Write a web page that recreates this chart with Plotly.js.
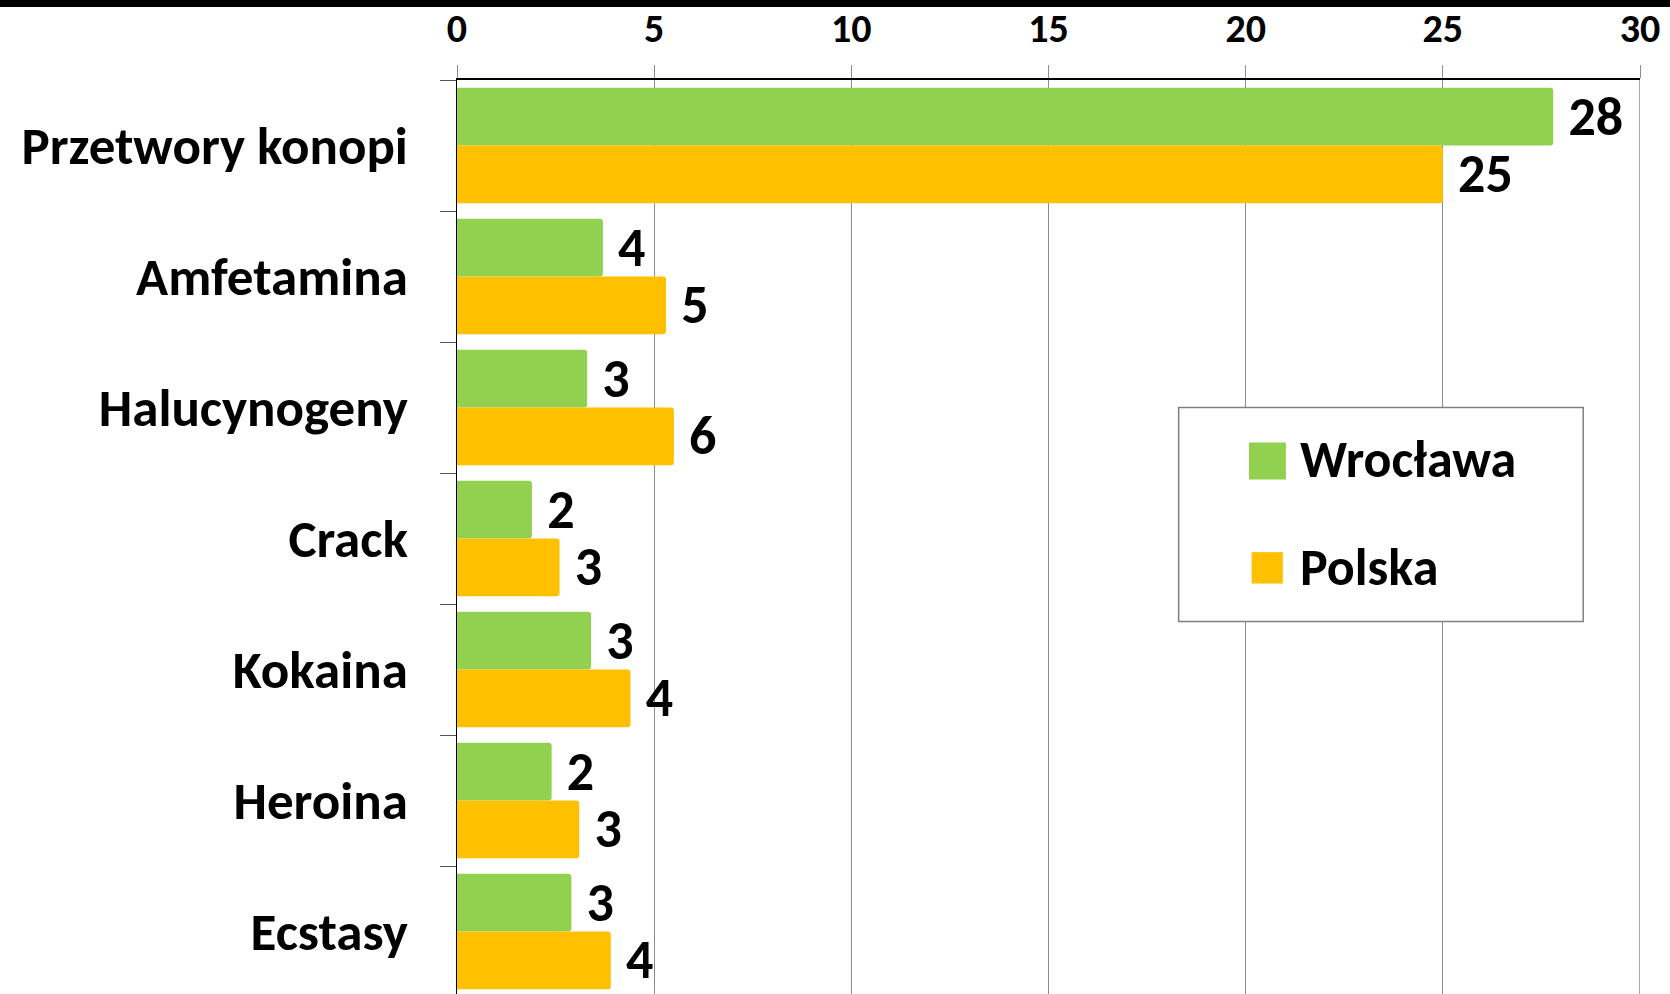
<!DOCTYPE html>
<html>
<head>
<meta charset="utf-8">
<script src="https://cdn.plot.ly/plotly-3.0.1.min.js"></script>
<style>
  html, body { margin: 0; padding: 0; background: #ffffff; }
  #chart { width: 1670px; height: 994px; }
</style>
</head>
<body>
<div id="chart"></div>
<script>
const categories = ["Przetwory konopi", "Amfetamina", "Halucynogeny", "Crack", "Kokaina", "Heroina", "Ecstasy"];
const seriesNames = ["Wrocława", "Polska"];
const wroclawValues = [27.8, 3.7, 3.3, 1.9, 3.4, 2.4, 2.9];
const polskaValues  = [25.0, 5.3, 5.5, 2.6, 4.4, 3.1, 3.9];
const xTickValues = [0, 5, 10, 15, 20, 25, 30];
const colors = ["#92D050", "#FFC000"];

const FONT = 'Carlito, Lato, sans-serif';

function barTrace(name, values, color) {
  return {
    type: "bar",
    orientation: "h",
    name: name,
    y: categories,
    x: values,
    marker: { color: color, line: { width: 0 } },
    texttemplate: "\u00a0%{x:.0f}",
    textposition: "outside",
    constraintext: "none",
    cliponaxis: false,
    textfont: { family: FONT, size: 54, color: "#000000", weight: "bold" },
    showlegend: false,
    hoverinfo: "x+y"
  };
}

const data = [
  barTrace(seriesNames[0], wroclawValues, colors[0]),
  barTrace(seriesNames[1], polskaValues, colors[1])
];

const layout = {
  width: 1670,
  height: 994,
  margin: { l: 457, r: 30, t: 80, b: 0, pad: 0 },
  paper_bgcolor: "#ffffff",
  plot_bgcolor: "#ffffff",
  barmode: "group",
  bargap: 0.12,
  bargroupgap: 0,
  barcornerradius: 3,
  font: { family: FONT, color: "#000000" },
  xaxis: {
    side: "top",
    range: [0, 30],
    tickvals: xTickValues,
    ticktext: xTickValues.map(String),
    showgrid: true,
    gridcolor: "#8c8c8c",
    gridwidth: 1,
    zeroline: false,
    showline: true,
    linecolor: "#000000",
    linewidth: 2,
    ticks: "outside",
    ticklen: 13,
    tickcolor: "#8c8c8c",
    tickwidth: 1,
    ticklabelstandoff: 7,
    tickfont: { family: FONT, size: 40, color: "#000000", weight: "bold" },
    fixedrange: true
  },
  yaxis: {
    type: "category",
    range: [6.477, -0.5],
    showgrid: false,
    zeroline: false,
    showline: true,
    linecolor: "#000000",
    linewidth: 1.5,
    ticks: "outside",
    tickson: "boundaries",
    ticklen: 16,
    tickcolor: "#555555",
    tickwidth: 1,
    ticklabelstandoff: 37,
    tickfont: { family: FONT, size: 53, color: "#000000", weight: "bold" },
    fixedrange: true
  },
  shapes: [
    // black bar at the top of the slide
    { type: "rect", xref: "paper", yref: "paper",
      x0: -457/1183, x1: 1213/1183, y0: 1 + 73/914, y1: 1 + 81/914,
      fillcolor: "#000000", line: { width: 0 }, layer: "above" },
    // right edge line at 30
    { type: "line", xref: "x", yref: "paper", x0: 30, x1: 30, y0: 0, y1: 1,
      line: { color: "#8c8c8c", width: 1.5 } },
    // legend box
    { type: "rect", xref: "paper", yref: "paper",
      x0: 0.610, x1: 0.952, y0: 0.4075, y1: 0.6417,
      fillcolor: "#ffffff", line: { color: "#7f7f7f", width: 1.5 }, layer: "above" },
    { type: "rect", xref: "paper", yref: "paper",
      x0: 0.6695, x1: 0.7007, y0: 0.5629, y1: 0.6034,
      fillcolor: colors[0], line: { width: 0 }, layer: "above" },
    { type: "rect", xref: "paper", yref: "paper",
      x0: 0.6717, x1: 0.6981, y0: 0.4491, y1: 0.4834,
      fillcolor: colors[1], line: { width: 0 }, layer: "above" }
  ],
  annotations: [
    { xref: "paper", yref: "paper", x: 0.7108, y: 0.5848, xanchor: "left", yanchor: "middle",
      text: seriesNames[0], showarrow: false,
      font: { family: FONT, size: 52, color: "#000000", weight: "bold" } },
    { xref: "paper", yref: "paper", x: 0.7108, y: 0.4677, xanchor: "left", yanchor: "middle",
      text: seriesNames[1], showarrow: false,
      font: { family: FONT, size: 52, color: "#000000", weight: "bold" } }
  ],
  showlegend: false
};

Plotly.newPlot("chart", data, layout, { displayModeBar: false, staticPlot: true });
</script>
</body>
</html>
